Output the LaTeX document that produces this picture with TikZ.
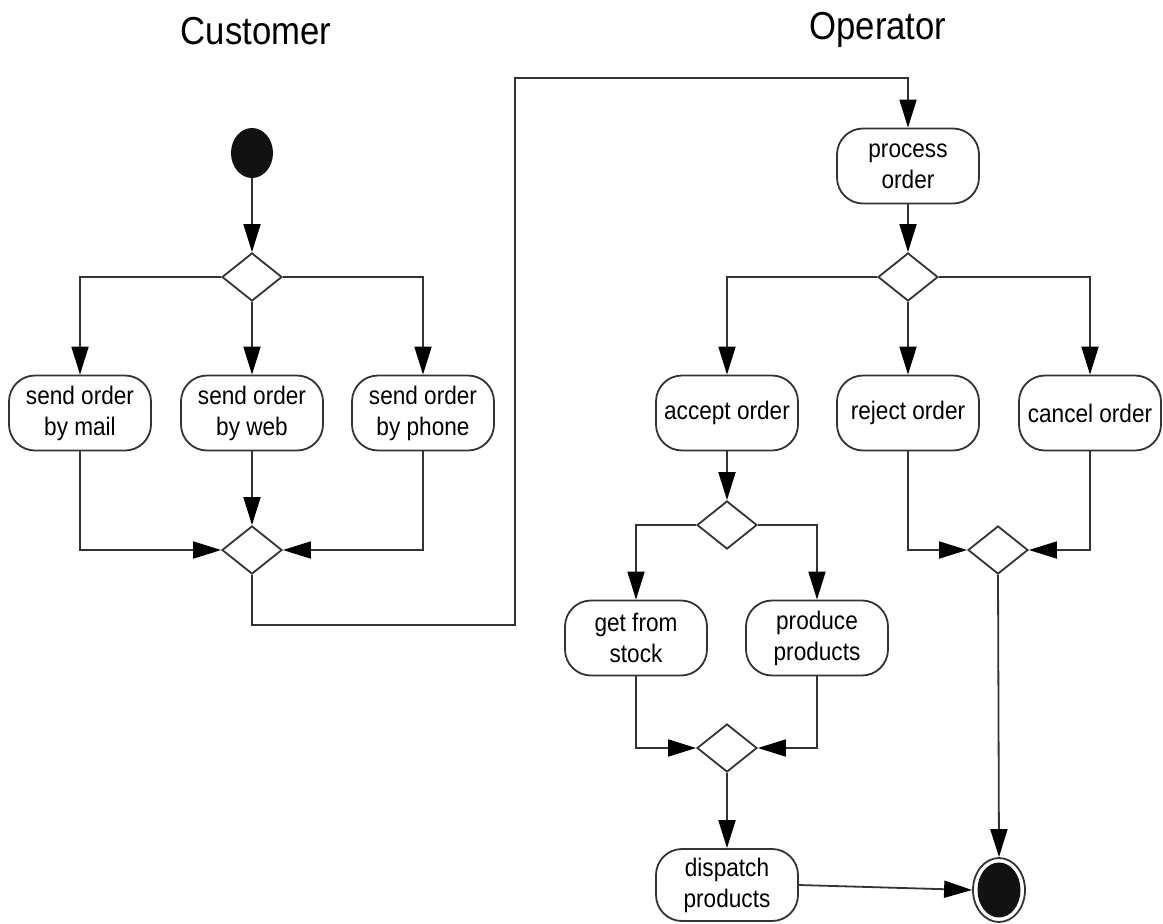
\documentclass[tikz,border=0pt]{standalone}
\usepackage{fontspec}
\setmainfont{Liberation Sans}[FakeStretch=0.89]
\usetikzlibrary{shapes.geometric,arrows.meta}
\definecolor{linec}{HTML}{333333}
\begin{document}
\begin{tikzpicture}[x=0.5pt,y=-0.5pt,
  action/.style={draw=linec,line width=0.9pt,rounded corners=13pt,minimum width=71pt,minimum height=37.5pt,inner sep=0pt,align=center,font=\fontsize{12.7}{15.5}\selectfont},
  decision/.style={draw=linec,line width=0.9pt,diamond,minimum width=30pt,minimum height=24pt,inner sep=0pt},
  title/.style={font=\fontsize{19.5}{22}\selectfont},
  flow/.style={draw=linec,line width=0.9pt,-{Triangle[length=14pt,width=8.5pt,color=black]}},
  plain/.style={draw=linec,line width=0.9pt}]
\useasboundingbox (0,0) rectangle (1163,923);
\node[title] (tcust) at (256,31) {Customer};
\node[title] (toper) at (878,30) {Operator};
% customer lane
\node[ellipse,fill=black!93,minimum width=21pt,minimum height=25pt,inner sep=0pt] (start) at (252,153) {};
\node[decision] (d1) at (252,277) {};
\node[action] (mail) at (80,413) {send order\\by mail};
\node[action] (web) at (252,413) {send order\\by web};
\node[action] (phone) at (423,413) {send order\\by phone};
\node[decision] (j1) at (252,550) {};
% operator lane
\node[action] (proc) at (908,166) {process\\order};
\node[decision] (d2) at (908,277) {};
\node[action] (accept) at (727,413) {accept order};
\node[action] (reject) at (908,413) {reject order};
\node[action] (cancel) at (1090,413) {cancel order};
\node[decision] (d3) at (727,525) {};
\node[action] (stock) at (636,638) {get from\\stock};
\node[action] (produce) at (817,638) {produce\\products};
\node[decision] (j2) at (727,748) {};
\node[action,minimum height=36pt] (dispatch) at (727,885) {dispatch\\products};
\node[decision] (j3) at (998,550) {};
\node[ellipse,draw=linec,line width=0.9pt,minimum width=26pt,minimum height=32pt,inner sep=0pt] (final) at (999,890) {};
\node[ellipse,fill=black!93,minimum width=21.5pt,minimum height=27.5pt,inner sep=0pt] (finalin) at (999,890) {};
\coordinate (c1) at (515,625);
\coordinate (c2) at (515,78);
% connectors
\draw[flow] (start) -- (d1);
\draw[flow] (d1.west) -| (mail.north);
\draw[flow] (d1) -- (web);
\draw[flow] (d1.east) -| (phone.north);
\draw[flow] (mail.south) |- (j1.west);
\draw[flow] (web) -- (j1);
\draw[flow] (phone.south) |- (j1.east);
\draw[flow] (j1.south) |- (c1) -- (c2) -| (proc.north);
\draw[flow] (proc) -- (d2);
\draw[flow] (d2.west) -| (accept.north);
\draw[flow] (d2) -- (reject);
\draw[flow] (d2.east) -| (cancel.north);
\draw[flow] (accept) -- (d3);
\draw[flow] (d3.west) -| (stock.north);
\draw[flow] (d3.east) -| (produce.north);
\draw[flow] (stock.south) |- (j2.west);
\draw[flow] (produce.south) |- (j2.east);
\draw[flow] (j2) -- (dispatch);
\draw[flow] (reject.south) |- (j3.west);
\draw[flow] (cancel.south) |- (j3.east);
\draw[flow] (j3.south) -- (final.north);
\draw[flow] (dispatch.east) -- (final.west);
\end{tikzpicture}
\end{document}
